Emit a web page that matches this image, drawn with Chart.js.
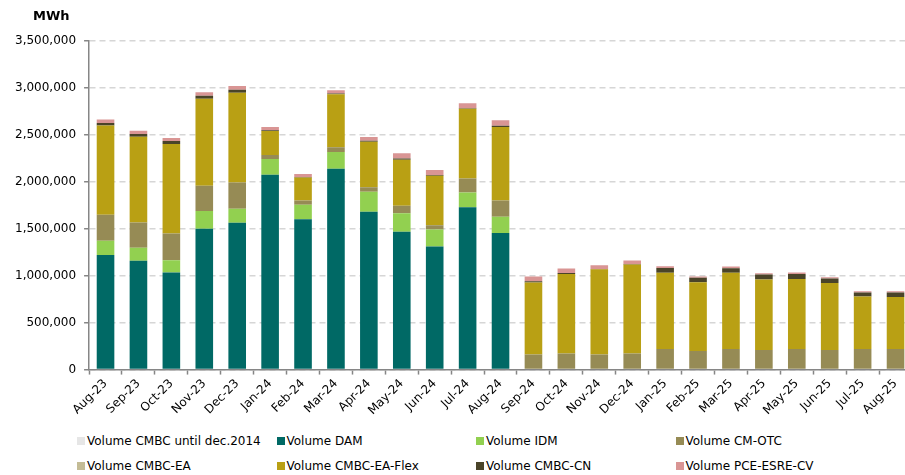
<!DOCTYPE html>
<html>
<head>
<meta charset="utf-8">
<script src="https://cdn.jsdelivr.net/npm/chart.js@4.4.0/dist/chart.umd.min.js"></script>
<style>
    html, body { margin: 0; padding: 0; background: #fff; overflow: hidden; }
    .page { position: relative; width: 905px; height: 475px; overflow: hidden; font-family: "DejaVu Sans", Verdana, sans-serif; }
    .unit { position: absolute; left: 33px; top: 8px; font-size: 13px; font-weight: bold; color: #000; }
    .chart-box { position: absolute; left: 0; top: 0; width: 920px; height: 420px; }
    .legend { position: absolute; left: 77px; top: 432px; display: grid; grid-template-columns: repeat(4, 199.5px); row-gap: 7px; font-size: 12px; color: #000; }
    .legend-item { display: flex; align-items: center; height: 18px; white-space: nowrap; }
    .legend-item .box { width: 8px; height: 8px; margin-right: 2px; }
</style>
</head>
<body>
<div class="page">
    <div class="chart-box"><canvas id="volumeChart"></canvas></div>
    <div class="unit">MWh</div>
    <div class="legend" id="legend"></div>
</div>
<script>
const months = ['Aug-23', 'Sep-23', 'Oct-23', 'Nov-23', 'Dec-23', 'Jan-24', 'Feb-24', 'Mar-24', 'Apr-24',
    'May-24', 'Jun-24', 'Jul-24', 'Aug-24', 'Sep-24', 'Oct-24', 'Nov-24', 'Dec-24', 'Jan-25', 'Feb-25',
    'Mar-25', 'Apr-25', 'May-25', 'Jun-25', 'Jul-25', 'Aug-25'];

const yTicks = [0, 500000, 1000000, 1500000, 2000000, 2500000, 3000000, 3500000];

const volCmbcUntil2014 = [0, 0, 0, 0, 0, 0, 0, 0, 0, 0, 0, 0, 0, 0, 0, 0, 0, 0, 0, 0, 0, 0, 0, 0, 0];
const volDam = [1220000, 1158000, 1034000, 1499000, 1563000, 2075000, 1602000, 2139000, 1680000, 1467000,
    1311000, 1730000, 1456000, 0, 0, 0, 0, 0, 0, 0, 0, 0, 0, 0, 0];
const volIdm = [153000, 139000, 131000, 189000, 149000, 167000, 153000, 178000, 213000, 199000,
    182000, 157000, 171000, 0, 0, 0, 0, 0, 0, 0, 0, 0, 0, 0, 0];
const volCmOtc = [277000, 270000, 285000, 269000, 282000, 43000, 47000, 50000, 50000, 78000,
    45000, 149000, 175000, 160000, 171000, 160000, 171000, 220000, 199000, 220000, 209000, 220000,
    209000, 220000, 220000];
const volCmbcEa = [0, 0, 0, 0, 0, 0, 0, 0, 0, 0, 0, 0, 0, 0, 0, 0, 0, 0, 0, 0, 0, 0, 0, 0, 0];
const volCmbcEaFlex = [949000, 913000, 952000, 928000, 955000, 255000, 245000, 565000, 484000, 491000,
    526000, 742000, 781000, 767000, 848000, 909000, 948000, 810000, 732000, 810000, 750000, 746000,
    714000, 558000, 554000];
const volCmbcCn = [28000, 28000, 32000, 32000, 32000, 10000, 5000, 8000, 10000, 14000,
    8000, 5000, 14000, 14000, 10000, 3000, 5000, 53000, 46000, 50000, 54000, 53000, 47000, 43000, 47000];
const volPceEsre = [36000, 36000, 32000, 36000, 39000, 33000, 30000, 36000, 40000, 54000,
    53000, 53000, 58000, 50000, 48000, 40000, 38000, 18000, 14000, 18000, 14000, 15000, 14000, 14000, 14000];

const series = [
    { label: 'Volume CMBC until dec.2014', data: volCmbcUntil2014, color: '#e6e6e6' },
    { label: 'Volume DAM', data: volDam, color: '#006965' },
    { label: 'Volume IDM', data: volIdm, color: '#92d050' },
    { label: 'Volume CM-OTC', data: volCmOtc, color: '#968b55' },
    { label: 'Volume CMBC-EA', data: volCmbcEa, color: '#c4bc96' },
    { label: 'Volume CMBC-EA-Flex', data: volCmbcEaFlex, color: '#b9a014' },
    { label: 'Volume CMBC-CN', data: volCmbcCn, color: '#4a4429' },
    { label: 'Volume PCE-ESRE-CV', data: volPceEsre, color: '#d99594' }
];

const axisColor = '#868686';
const font = { family: '"DejaVu Sans", Verdana, sans-serif', size: 12 };

const ctx = document.getElementById('volumeChart').getContext('2d');
new Chart(ctx, {
    type: 'bar',
    data: {
        labels: months,
        datasets: series.map(s => ({
            label: s.label,
            data: s.data,
            backgroundColor: s.color,
            borderWidth: 0,
            categoryPercentage: 1,
            barPercentage: 0.535
        }))
    },
    options: {
        responsive: true,
        maintainAspectRatio: false,
        animation: false,
        layout: { padding: { top: 41, left: 7, right: 8, bottom: 0 } },
        plugins: {
            legend: { display: false },
            tooltip: { enabled: false }
        },
        scales: {
            x: {
                stacked: true,
                border: { color: axisColor, width: 1.5 },
                grid: {
                    offset: true,
                    drawOnChartArea: false,
                    drawTicks: true,
                    tickLength: 5,
                    tickColor: axisColor,
                    tickWidth: 1.5
                },
                ticks: {
                    color: '#000',
                    font: font,
                    maxRotation: 45,
                    minRotation: 45,
                    autoSkip: false,
                    padding: 2
                }
            },
            y: {
                stacked: true,
                min: 0,
                max: yTicks[yTicks.length - 1],
                afterBuildTicks: axis => { axis.ticks = yTicks.map(v => ({ value: v })); },
                border: { color: axisColor, width: 1.5, dash: [6, 4] },
                grid: {
                    color: '#d6d6d6',
                    lineWidth: 1.5,
                    tickLength: 5,
                    tickColor: axisColor,
                    tickWidth: 1.5,
                    tickBorderDash: []
                },
                ticks: {
                    color: '#000',
                    font: font,
                    padding: 8,
                    callback: v => v.toLocaleString('en-US')
                }
            }
        }
    }
});

const legend = document.getElementById('legend');
series.forEach(s => {
    const item = document.createElement('div');
    item.className = 'legend-item';
    item.innerHTML = '<span class="box" style="background:' + s.color + '"></span><span>' + s.label + '</span>';
    legend.appendChild(item);
});
</script>
</body>
</html>
